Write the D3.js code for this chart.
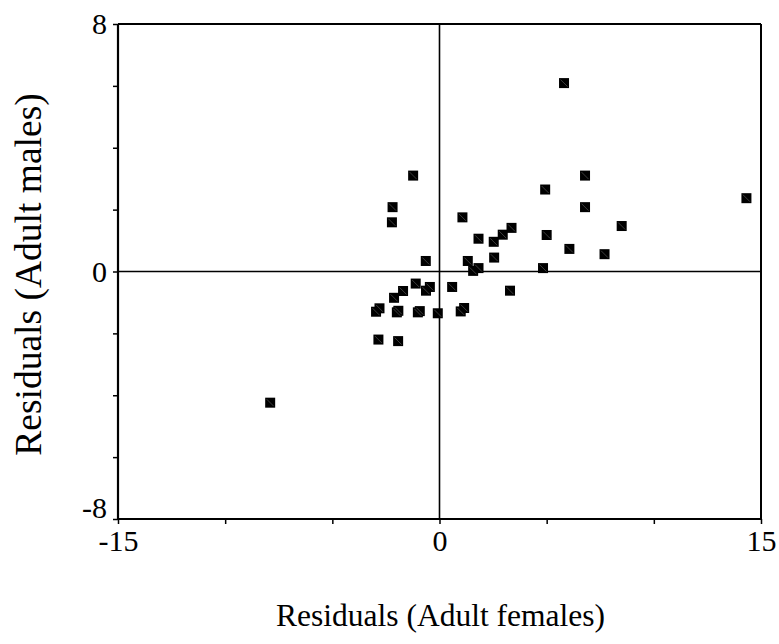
<!DOCTYPE html>
<html>
<head>
<meta charset="utf-8">
<script src="https://cdn.jsdelivr.net/npm/d3@7"></script>
<style>
  html, body { margin: 0; padding: 0; background: #fff; }
  svg { display: block; }
  text { font-family: "Liberation Serif", "Times New Roman", serif; fill: #000; }
</style>
</head>
<body>
<svg id="chart" width="779" height="644"></svg>
<script>
// Data (residuals)
const femaleResiduals = [
  -1.23, -2.19, -2.22, -0.64, 5.81, 6.79, 4.93, 14.32, 6.79, 1.07,
  8.50, 1.82, 2.53, 2.95, 3.36, 5.00, 6.06, 7.70, 1.32, 2.55,
  1.82, 1.57, 4.83, -1.11, -0.45, -0.63, -1.70, -2.12, 0.59, 3.29,
  -2.96, -2.80, -1.99, -1.92, -1.01, -0.92, -0.08, 0.99, 1.15, -2.85,
  -1.93, -7.90
];
const maleResiduals = [
  3.10, 2.08, 1.59, 0.34, 6.09, 3.10, 2.65, 2.37, 2.08, 1.75,
  1.47, 1.06, 0.96, 1.19, 1.41, 1.18, 0.73, 0.56, 0.34, 0.45,
  0.11, 0.02, 0.11, -0.39, -0.50, -0.62, -0.63, -0.85, -0.50, -0.62,
  -1.30, -1.19, -1.32, -1.27, -1.32, -1.28, -1.35, -1.29, -1.18, -2.20,
  -2.25, -4.24
];
const xTickValues = [-15, -10, -5, 0, 5, 10, 15];
const xTickLabels = ["-15", "", "", "0", "", "", "15"];
const yTickValues = [-8, -6, -4, -2, 0, 2, 4, 6, 8];
const yTickLabels = ["-8", "", "", "", "0", "", "", "", "8"];
const xTitle = "Residuals (Adult females)";
const yTitle = "Residuals (Adult males)";

const points = femaleResiduals.map((v, i) => ({ x: v, y: maleResiduals[i] }));

const svg = d3.select("#chart");
const mLeft = 118, mRight = 761, mTop = 24, mBottom = 519;

const x = d3.scaleLinear().domain([-15, 15]).range([mLeft, mRight]);
const y = d3.scaleLinear().domain([-8, 8]).range([mBottom, mTop]);

// Frame (top and right)
svg.append("line").attr("x1", mLeft).attr("x2", mRight).attr("y1", mTop).attr("y2", mTop)
  .attr("stroke", "#000").attr("stroke-width", 2);
svg.append("line").attr("x1", mRight).attr("x2", mRight).attr("y1", mTop).attr("y2", mBottom)
  .attr("stroke", "#000").attr("stroke-width", 2);

// Zero reference lines
svg.append("line").attr("x1", x(0)).attr("x2", x(0)).attr("y1", mTop).attr("y2", mBottom)
  .attr("stroke", "#000").attr("stroke-width", 1.6);
svg.append("line").attr("x1", mLeft).attr("x2", mRight).attr("y1", y(0)).attr("y2", y(0))
  .attr("stroke", "#000").attr("stroke-width", 1.6);

// Axes
const xAxis = d3.axisBottom(x).tickValues(xTickValues).tickSize(5).tickPadding(4)
  .tickFormat((d, i) => xTickLabels[i]);
const yAxis = d3.axisLeft(y).tickValues(yTickValues).tickSize(5).tickPadding(6)
  .tickFormat((d, i) => yTickLabels[i]);

const gx = svg.append("g").attr("transform", `translate(0,${mBottom})`).call(xAxis);
const gy = svg.append("g").attr("transform", `translate(${mLeft},0)`).call(yAxis);

[gx, gy].forEach(g => {
  g.select(".domain").attr("stroke", "#000").attr("stroke-width", 2.2);
  g.selectAll(".tick line").attr("stroke", "#000").attr("stroke-width", 1.5);
  g.selectAll(".tick text").style("font-family", '"Liberation Serif", "Times New Roman", serif')
    .style("font-size", "30px").attr("fill", "#000");
});
gx.select(".domain").attr("d", `M${mLeft},0H${mRight}`);
gy.select(".domain").attr("d", `M0,${mBottom}V${mTop}`);
gx.selectAll(".tick text").attr("dy", "0.75em");
// lowest y label sits slightly above its tick
gy.selectAll(".tick text").filter(d => d === -8).attr("dy", "-0.05em");

// Points
const s = 10;
const pg = svg.append("g");
pg.selectAll("rect").data(points).join("rect")
  .attr("x", d => x(d.x) - s / 2)
  .attr("y", d => y(d.y) - s / 2)
  .attr("width", s).attr("height", s)
  .attr("fill", "#000");
pg.selectAll("line").data(points).join("line")
  .attr("x1", d => x(d.x) - s / 2 + 1.5)
  .attr("y1", d => y(d.y) - s / 2 + 1.5)
  .attr("x2", d => x(d.x) + s / 2 - 1.5)
  .attr("y2", d => y(d.y) + s / 2 - 1.5)
  .attr("stroke", "#666").attr("stroke-width", 0.6);

// Titles
svg.append("text")
  .attr("x", (mLeft + mRight) / 2 + 1).attr("y", 626)
  .attr("text-anchor", "middle")
  .style("font-size", "31.5px")
  .text(xTitle);
svg.append("text")
  .attr("transform", `translate(41,${(mTop + mBottom) / 2 + 3}) rotate(-90)`)
  .attr("text-anchor", "middle")
  .style("font-size", "37.5px")
  .text(yTitle);
</script>
</body>
</html>
